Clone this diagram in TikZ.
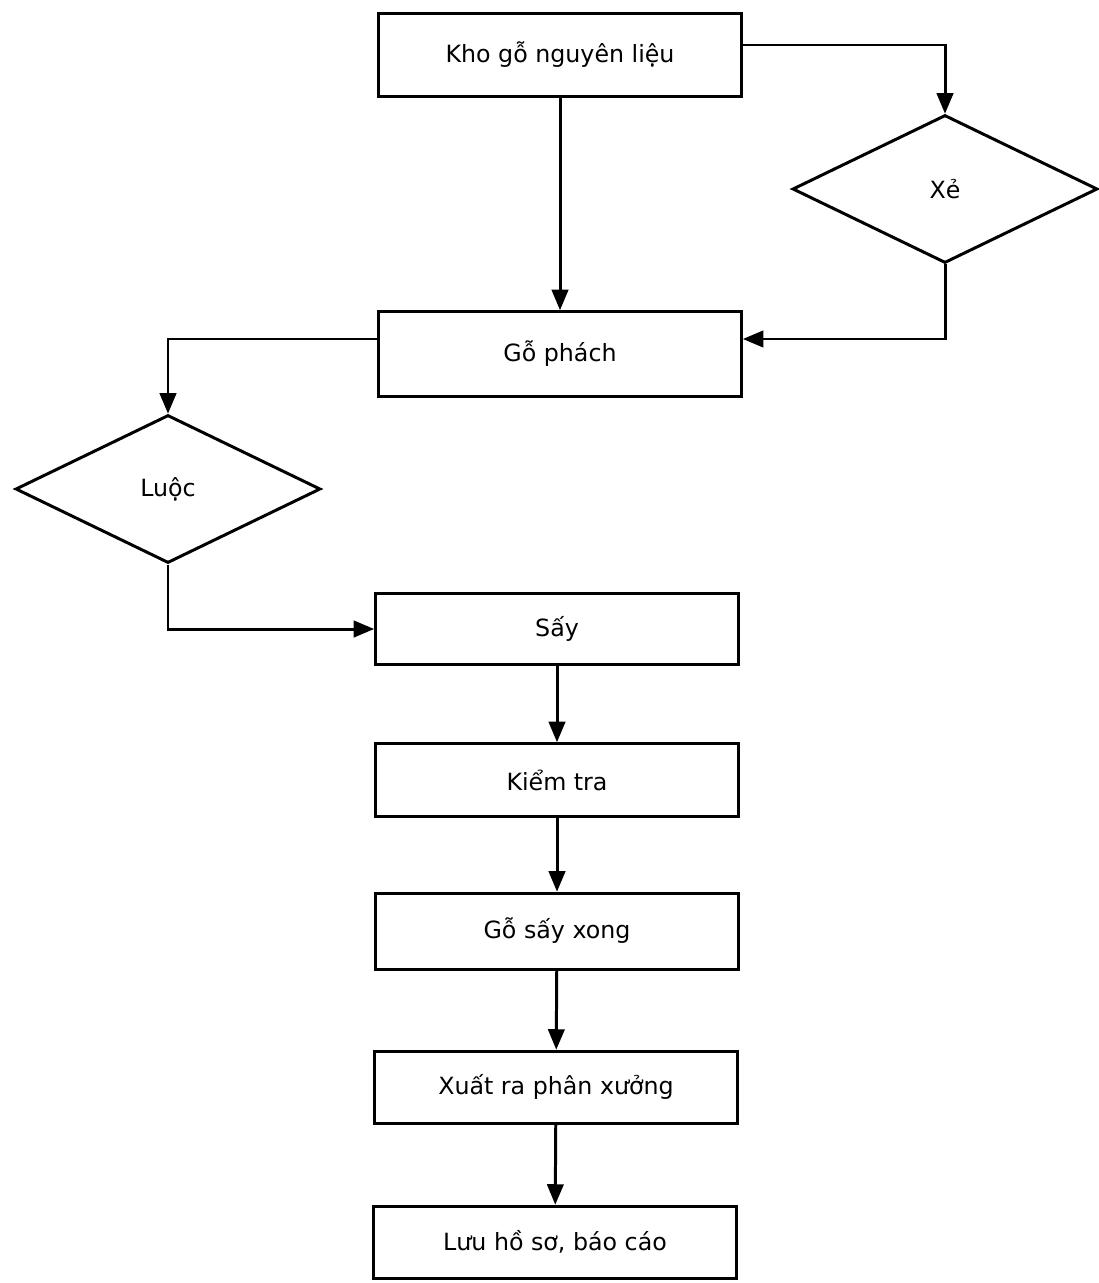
\documentclass[tikz,border=0pt]{standalone}
\usepackage{fontspec}
\setmainfont{DejaVu Sans}
\usepackage{tikz}
\usetikzlibrary{shapes,arrows,positioning,calc}

\begin{document}
\begin{tikzpicture}[
    nodetype/.style={draw, line width=1.7pt, font=\fontsize{13.5}{16}\selectfont},
    stage/.style={nodetype, rectangle, minimum width=7.26cm},
    choice/.style={nodetype, diamond, inner sep=0pt, minimum width=6.1cm, minimum height=2.96cm},
    arrow/.style={->, line width=1.7pt, >=triangle 45},
]
\useasboundingbox (0,0) rectangle (21.98,-25.66);

% Main column
\node[stage, minimum height=1.66cm] (kho) at (11.2,-1.1) {Kho gỗ nguyên liệu};
\node[stage, minimum height=1.7cm] (phach) at (11.2,-7.08) {Gỗ phách};
\node[stage, minimum height=1.42cm] (say) at (11.14,-12.58) {Sấy};
\node[stage, minimum height=1.46cm] (kiem) at (11.14,-15.6) {Kiểm tra};
\node[stage, minimum height=1.52cm] (xong) at (11.14,-18.62) {Gỗ sấy xong};
\node[stage, minimum height=1.44cm] (xuat) at (11.12,-21.74) {Xuất ra phân xưởng};
\node[stage, minimum height=1.44cm] (luu) at (11.1,-24.84) {Lưu hồ sơ, báo cáo};

% Side steps
\node[choice] (xe) at (18.9,-3.78) {Xẻ};
\node[choice] (luoc) at (3.36,-9.78) {Luộc};

% Arrows
\draw[arrow] ([yshift=0.2cm]kho.east) -| (xe.north);
\draw[arrow] (kho) -- (phach);
\draw[arrow] (xe.south) |- ([yshift=0.3cm]phach.east);
\draw[arrow] ([yshift=0.3cm]phach.west) -| (luoc.north);
\draw[arrow] (luoc.south) |- (say.west);
\draw[arrow] (say) -- (kiem);
\draw[arrow] (kiem) -- (xong);
\draw[arrow] (xong) -- (xuat);
\draw[arrow] (xuat) -- (luu);

\end{tikzpicture}
\end{document}
